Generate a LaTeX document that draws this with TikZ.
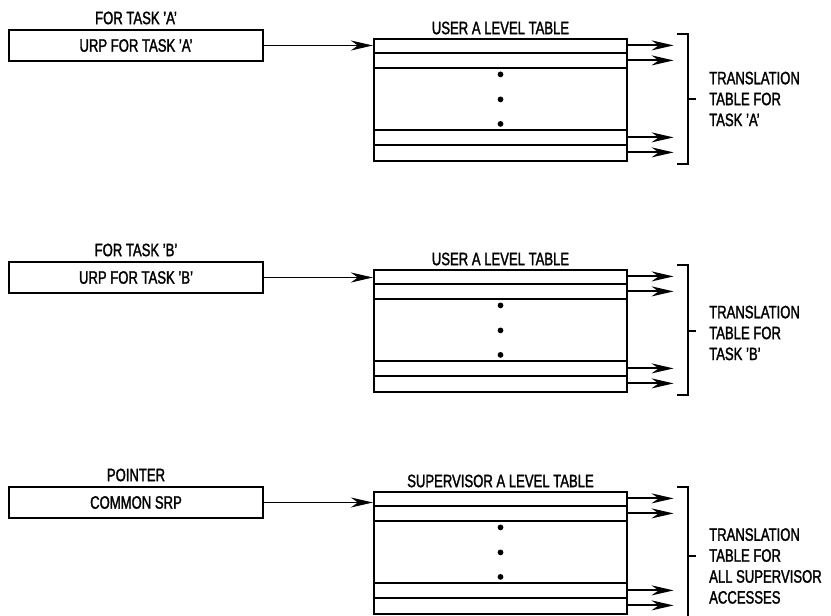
\documentclass[tikz,border=0pt]{standalone}
\usepackage{fontspec}
\setmainfont{Liberation Sans}[FakeStretch=0.73,FakeBold=1.6]
\usetikzlibrary{arrows.meta,calc}
\begin{document}
\begin{tikzpicture}[x=1bp,y=-1bp,
  every node/.style={font=\fontsize{18}{21}\selectfont, inner sep=0pt},
  ptrbox/.style={draw, line width=2.2bp, minimum width=254bp, minimum height=31bp},
  tbl/.style={draw, line width=2.2bp, minimum width=253bp, minimum height=122bp},
  row/.style={line width=1.7bp},
  arr/.style={line width=1.9bp, -{Stealth[length=22bp,width=10bp,inset=7bp]}},
  brk/.style={line width=1.8bp},
  lbl/.style={anchor=center},
  brtext/.style={anchor=west, align=left}
]
\useasboundingbox (0,0) rectangle (831,616);

% #1 id, #2 box dy, #3 top label, #4 box text, #5 table dy, #6 table label,
% #7 bracket text, #8 bracket middle y, #9 bracket text centre y
\newcommand\drawgroup[9]{%
  \node[lbl] (top#1) at (136, 18+#2) {#3};
  \node[ptrbox] (box#1) at (136, 45.5+#2) {#4};
  \node[tbl] (tbl#1) at (500.5, 100+#5) {};
  \node[lbl] (tl#1) at (500.5, 28+#5) {#6};
  \draw[arr] (box#1.east) -- (box#1.east -| tbl#1.west);
  \foreach \o in {15,30,92,107}{
    \draw[row] ($(tbl#1.north west)+(0,\o)$) -- ($(tbl#1.north east)+(0,\o)$);
  }
  \foreach \o in {36.5,61.5,86}{
    \fill ($(tbl#1.north)+(0,\o)$) circle (2.9bp);
  }
  \foreach \o [count=\k] in {7.5,22.5,99.5,114.5}{
    \coordinate (out#1\k) at ($(tbl#1.north east)+(45.5,\o)$);
    \draw[arr] ($(tbl#1.north east)+(0,\o)$) -- (out#1\k);
  }
  \coordinate (bt#1) at ($(tbl#1.north east)+(60,-4)$);
  \coordinate (bb#1) at ($(tbl#1.south east)+(60,2)$);
  \coordinate (bm#1) at (bt#1 |- 0,#8);
  \draw[brk] ($(bt#1)+(-11,0)$) -- (bt#1) -- (bb#1) -- ($(bb#1)+(-11,0)$);
  \draw[brk] (bm#1) -- ++(8,0) coordinate (bn#1);
  \node[brtext] (bx#1) at (709, #9) {#7};
}

\drawgroup{a}{0}{FOR TASK 'A'}{URP FOR TASK 'A'}{0}{USER A LEVEL TABLE}{TRANSLATION\\TABLE FOR\\TASK 'A'}{99}{99}
\drawgroup{b}{232}{FOR TASK 'B'}{URP FOR TASK 'B'}{231}{USER A LEVEL TABLE}{TRANSLATION\\TABLE FOR\\TASK 'B'}{331}{333}
\drawgroup{c}{457}{POINTER}{COMMON SRP}{453}{SUPERVISOR A LEVEL TABLE}{TRANSLATION\\TABLE FOR\\ALL SUPERVISOR\\ACCESSES}{556}{566}
\end{tikzpicture}
\end{document}
